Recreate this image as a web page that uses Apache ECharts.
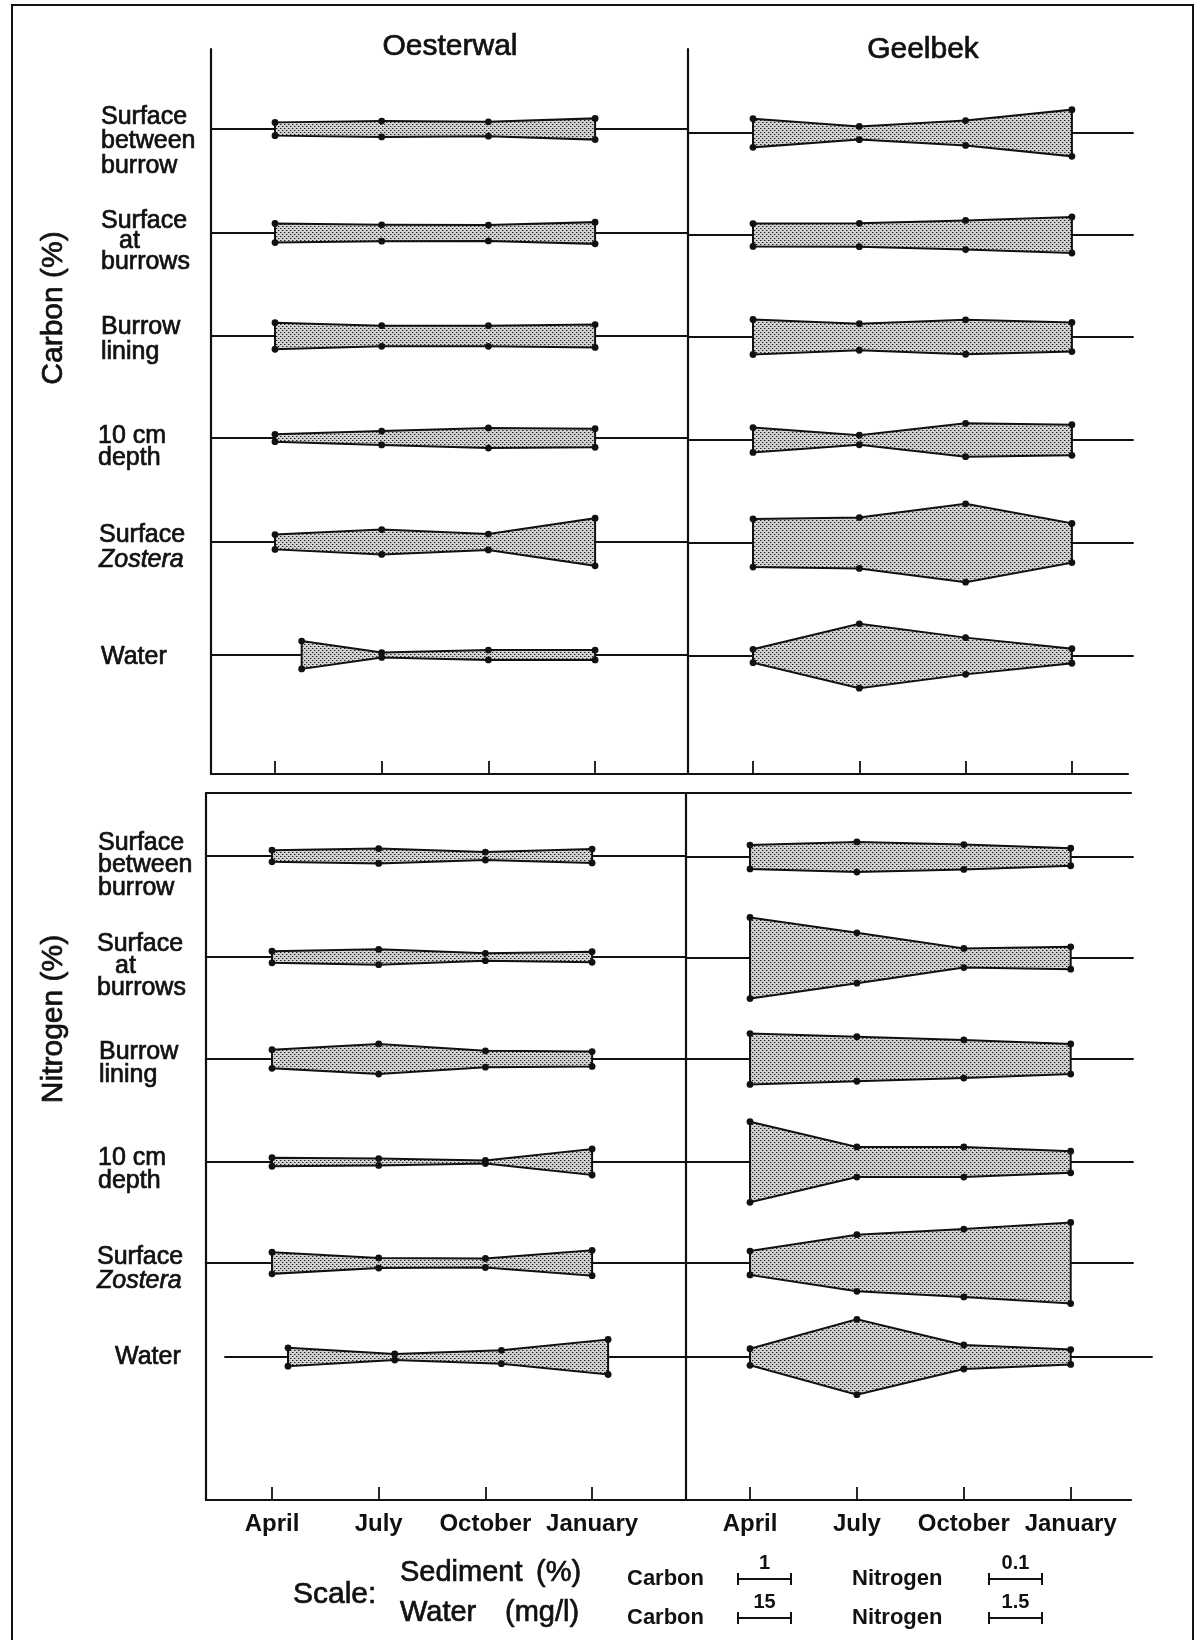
<!DOCTYPE html>
<html>
<head>
<meta charset="utf-8">
<script src="https://cdn.jsdelivr.net/npm/echarts@6/dist/echarts.min.js"></script>
<style>
    html, body { margin: 0; padding: 0; background: #fff; }
    #main { width: 1195px; height: 1640px; }
</style>
</head>
<body>
<div id="main"></div>
<script>
// months on the x axis, sample index 0..3
var months = ['April', 'July', 'October', 'January'];
var rowLabels = [
    ['Surface', 'between', 'burrow'],
    ['Surface', 'at', 'burrows'],
    ['Burrow', 'lining'],
    ['10 cm', 'depth'],
    ['Surface', 'Zostera'],
    ['Water']
];

// kite widths (full width), sediment rows in %, water row in mg/l
var carbonOesterwal = [
    [0.25, 0.30, 0.27, 0.40],
    [0.36, 0.31, 0.30, 0.41],
    [0.50, 0.39, 0.39, 0.43],
    [0.14, 0.26, 0.38, 0.35],
    [0.28, 0.47, 0.30, 0.90],
    [7.9, 1.4, 2.8, 2.8]
];
var carbonGeelbek = [
    [0.54, 0.25, 0.47, 0.88],
    [0.43, 0.44, 0.55, 0.68],
    [0.66, 0.50, 0.65, 0.55],
    [0.47, 0.18, 0.63, 0.58],
    [0.91, 0.96, 1.48, 0.74],
    [3.8, 18.2, 10.4, 4.1]
];
var nitrogenOesterwal = [
    [0.022, 0.028, 0.015, 0.026],
    [0.022, 0.029, 0.014, 0.020],
    [0.035, 0.057, 0.031, 0.028],
    [0.016, 0.013, 0.006, 0.049],
    [0.041, 0.019, 0.017, 0.048],
    [0.52, 0.17, 0.38, 0.99]
];
var nitrogenGeelbek = [
    [0.045, 0.057, 0.047, 0.033],
    [0.153, 0.095, 0.036, 0.042],
    [0.096, 0.084, 0.072, 0.057],
    [0.152, 0.057, 0.057, 0.041],
    [0.045, 0.107, 0.128, 0.153],
    [0.47, 2.13, 0.68, 0.42]
];

// sampling times (month index); the Oesterwal water rows were sampled off the grid
var sampleAt = [0, 1, 2, 3];
var carbonWaterOesterwalAt = [0.25, 1, 2, 3];
var nitrogenWaterOesterwalAt = [0.15, 1.15, 2.15, 3.15];

// one scale bar
var carbonScale = { sediment: 1, water: 15 };
var nitrogenScale = { sediment: 0.1, water: 1.5 };

var FONT = '"Liberation Sans", Arial, sans-serif';
var INK = '#111';
var unitPx = 53;

// stippled fill like the original screen tone
var pat = document.createElement('canvas');
pat.width = 4; pat.height = 4;
var g = pat.getContext('2d');
g.fillStyle = '#d2d2d2';
g.fillRect(0, 0, 4, 4);
g.fillStyle = '#1e1e1e';
g.fillRect(0, 0, 1, 1);
g.fillRect(2, 2, 1, 1);
g.fillStyle = '#8a8a8a';
g.fillRect(1, 0, 1, 1);
g.fillRect(3, 2, 1, 1);
var stipple = { image: pat, repeat: 'repeat' };

var panels = [
    { left: 211, right: 688, top: 49, bottom: 774, april: 275, step: 106.7, labels: false, topLine: false },
    { left: 688, right: 1128, top: 49, bottom: 774, april: 753, step: 106.3, labels: false, topLine: false },
    { left: 206, right: 686, top: 793, bottom: 1500, april: 272, step: 106.7, labels: true, topLine: true },
    { left: 686, right: 1131, top: 793, bottom: 1500, april: 750, step: 106.9, labels: true, topLine: true }
];

var blocks = [
    { panel: 0, values: carbonOesterwal, scale: carbonScale, base: [129, 233, 336, 438, 542, 655],
      x0: 211, x1: 688, waterAt: carbonWaterOesterwalAt, waterX0: 211, waterX1: 688 },
    { panel: 1, values: carbonGeelbek, scale: carbonScale, base: [133, 235, 337, 440, 543, 656],
      x0: 688, x1: 1133, waterAt: sampleAt, waterX0: 688, waterX1: 1133 },
    { panel: 2, values: nitrogenOesterwal, scale: nitrogenScale, base: [856, 957, 1059, 1162, 1263, 1357],
      x0: 206, x1: 686, waterAt: nitrogenWaterOesterwalAt, waterX0: 225, waterX1: 686 },
    { panel: 3, values: nitrogenGeelbek, scale: nitrogenScale, base: [857, 958, 1059, 1162, 1263, 1357],
      x0: 686, x1: 1133, waterAt: sampleAt, waterX0: 686, waterX1: 1152 }
];

var grid = [], xAxis = [], yAxis = [], series = [];

panels.forEach(function (p) {
    var gi = grid.length;
    grid.push({ left: p.left, top: p.top, width: p.right - p.left, height: p.bottom - p.top });
    var min = (p.left - p.april) / p.step, max = (p.right - p.april) / p.step;
    xAxis.push({
        gridIndex: gi, type: 'value', min: min, max: max,
        axisLine: { show: true, onZero: false, lineStyle: { color: INK, width: 2.2 } },
        axisTick: { show: true, inside: true, length: 13, customValues: [0, 1, 2, 3], lineStyle: { color: INK, width: 1.8 } },
        axisLabel: {
            show: p.labels, customValues: [0, 1, 2, 3], margin: 12,
            formatter: function (v) { return months[Math.round(v)]; },
            color: INK, fontSize: 24, fontWeight: 'bold', fontFamily: FONT
        },
        splitLine: { show: false }
    });
    if (p.topLine) {
        xAxis.push({
            gridIndex: gi, type: 'value', position: 'top', min: min, max: max,
            axisLine: { show: true, onZero: false, lineStyle: { color: INK, width: 2.2 } },
            axisTick: { show: false }, axisLabel: { show: false }, splitLine: { show: false }
        });
    }
    yAxis.push({
        gridIndex: gi, type: 'value', min: 0, max: 1,
        axisLine: { show: true, onZero: false, lineStyle: { color: INK, width: 2.2 } },
        axisTick: { show: false }, axisLabel: { show: false }, splitLine: { show: false }
    });
});

function kite(params, api) {
    if (params.dataIndex !== 0) {
        return;
    }
    var n = params.dataInsideLength;
    var top = [], bottom = [], dots = [];
    for (var j = 0; j < n; j++) {
        var x = api.value(0, j), w = api.value(1, j);
        var a = api.coord([x, w / 2]);
        var b = api.coord([x, -w / 2]);
        top.push(a);
        bottom.unshift(b);
        dots.push({ type: 'circle', shape: { cx: a[0], cy: a[1], r: 3.4 }, style: { fill: INK } });
        dots.push({ type: 'circle', shape: { cx: b[0], cy: b[1], r: 3.4 }, style: { fill: INK } });
    }
    return {
        type: 'group',
        children: [{
            type: 'polygon',
            shape: { points: top.concat(bottom) },
            style: { fill: stipple, stroke: INK, lineWidth: 2 }
        }].concat(dots)
    };
}

blocks.forEach(function (blk) {
    var p = panels[blk.panel];
    blk.values.forEach(function (vals, r) {
        var isWater = r === 5;
        var sc = isWater ? blk.scale.water : blk.scale.sediment;
        var xs = isWater ? blk.waterAt : sampleAt;
        var x0 = isWater ? blk.waterX0 : blk.x0;
        var x1 = isWater ? blk.waterX1 : blk.x1;
        var gi = grid.length;
        grid.push({ left: x0, top: blk.base[r] - 50, width: x1 - x0, height: 100 });
        var xi = xAxis.length, yi = yAxis.length;
        xAxis.push({
            gridIndex: gi, type: 'value',
            min: (x0 - p.april) / p.step, max: (x1 - p.april) / p.step,
            axisLine: { show: true, onZero: true, lineStyle: { color: INK, width: 1.8 } },
            axisTick: { show: false }, axisLabel: { show: false }, splitLine: { show: false }
        });
        yAxis.push({
            gridIndex: gi, type: 'value', show: false,
            min: -50 / unitPx * sc, max: 50 / unitPx * sc
        });
        series.push({
            type: 'custom',
            xAxisIndex: xi, yAxisIndex: yi,
            silent: true,
            renderItem: kite,
            data: xs.map(function (x, j) { return [x, vals[j]]; })
        });
    });
});

// text pieces; a hairline stroke gives the heavier photocopied look
function txt(x, y, s, size, opt) {
    opt = opt || {};
    return {
        type: 'text', x: x, y: y, rotation: opt.rotation || 0, silent: true,
        style: {
            text: s, fill: INK, fontFamily: FONT, fontSize: size,
            fontWeight: opt.weight || 'normal', fontStyle: opt.italic ? 'italic' : 'normal',
            stroke: INK, lineWidth: opt.weight === 'bold' ? 0 : 0.7,
            textAlign: opt.align || 'left', align: opt.align || 'left',
            textVerticalAlign: 'middle', verticalAlign: 'middle'
        }
    };
}

var graphics = [];
graphics.push({
    type: 'rect', silent: true,
    shape: { x: 12, y: 5, width: 1181, height: 1660 },
    style: { fill: null, stroke: INK, lineWidth: 2 }
});
graphics.push(txt(450, 47, 'Oesterwal', 30, { align: 'center' }));
graphics.push(txt(923, 50, 'Geelbek', 30, { align: 'center' }));
graphics.push(txt(54, 308, 'Carbon (%)', 30, { align: 'center', rotation: Math.PI / 2 }));
graphics.push(txt(54, 1019, 'Nitrogen (%)', 30, { align: 'center', rotation: Math.PI / 2 }));

var carbonLabelPos = [[101, 117, 24.5], [101, 221, 20.5], [101, 327, 25], [98, 436, 22], [99, 535, 25], [101, 657, 0]];
var nitrogenLabelPos = [[98, 843, 22.5], [97, 944, 22], [99, 1052, 23], [98, 1158, 23], [97, 1257, 24], [115, 1357, 0]];
[carbonLabelPos, nitrogenLabelPos].forEach(function (pos) {
    rowLabels.forEach(function (lines, r) {
        lines.forEach(function (s, k) {
            var indent = s === 'at' ? 18 : 0;
            graphics.push(txt(pos[r][0] + indent, pos[r][1] + k * pos[r][2], s, 25,
                { italic: s === 'Zostera' }));
        });
    });
});

// scale legend
graphics.push(txt(293, 1595, 'Scale:', 30));
graphics.push(txt(400, 1573, 'Sediment', 29));
graphics.push(txt(536, 1573, '(%)', 29));
graphics.push(txt(400, 1613, 'Water', 29));
graphics.push(txt(505, 1613, '(mg/l)', 29));
[[1577, '1', '0.1'], [1616, '15', '1.5']].forEach(function (row) {
    var y = row[0];
    graphics.push(txt(627, y + 2, 'Carbon', 22, { weight: 'bold' }));
    graphics.push(txt(852, y + 2, 'Nitrogen', 22, { weight: 'bold' }));
    [[738, row[1]], [989, row[2]]].forEach(function (b) {
        var bx = b[0], by = y + 2;
        graphics.push({ type: 'line', silent: true, shape: { x1: bx, y1: by, x2: bx + unitPx, y2: by }, style: { stroke: INK, lineWidth: 2 } });
        graphics.push({ type: 'line', silent: true, shape: { x1: bx, y1: by - 6, x2: bx, y2: by + 6 }, style: { stroke: INK, lineWidth: 2 } });
        graphics.push({ type: 'line', silent: true, shape: { x1: bx + unitPx, y1: by - 6, x2: bx + unitPx, y2: by + 6 }, style: { stroke: INK, lineWidth: 2 } });
        graphics.push(txt(bx + unitPx / 2, by - 16, b[1], 20, { align: 'center', weight: 'bold' }));
    });
});

var chart = echarts.init(document.getElementById('main'));
chart.setOption({
    animation: false,
    backgroundColor: '#fff',
    grid: grid,
    xAxis: xAxis,
    yAxis: yAxis,
    series: series,
    graphic: { elements: graphics }
});
</script>
</body>
</html>
